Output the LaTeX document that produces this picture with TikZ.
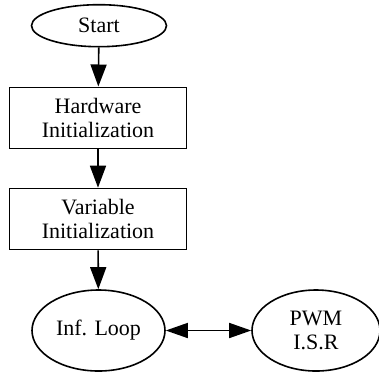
\documentclass[tikz,border=0pt]{standalone}
\usepackage{fontspec}
\setmainfont{Liberation Serif}
\usetikzlibrary{shapes.geometric,arrows.meta}
\begin{document}
\begin{tikzpicture}[x=1pt,y=-1pt,
  every node/.style={font=\fontsize{22}{23.4}\selectfont, align=center, inner sep=0pt},
  oval/.style={draw, ellipse, line width=1.6pt},
  stepbox/.style={draw, rectangle, line width=1.6pt, minimum width=177pt, minimum height=61pt},
  flow/.style={line width=1.6pt, -{Triangle[length=22pt,width=16pt]}},
  both/.style={line width=1.6pt, {Triangle[length=22pt,width=15pt]}-{Triangle[length=22pt,width=15pt]}}]
  \useasboundingbox (0,0) rectangle (379,373);
  \node[oval, minimum width=135pt, minimum height=42pt] (start) at (99,25.7) {Start};
  \node[stepbox] (hw) at (98,117.8) {Hardware\\Initialization};
  \node[stepbox] (var) at (98,219) {Variable\\Initialization};
  \node[oval, minimum width=133pt, minimum height=81pt] (loop) at (98.5,330.5) {Inf. Loop};
  \node[oval, minimum width=128pt, minimum height=81pt] (isr) at (316,330.5) {PWM\\I.S.R};
  \draw[flow] (start) -- (hw);
  \draw[flow] (hw) -- (var);
  \draw[flow] (var) -- (loop);
  \draw[both] (loop) -- (isr);
\end{tikzpicture}
\end{document}
